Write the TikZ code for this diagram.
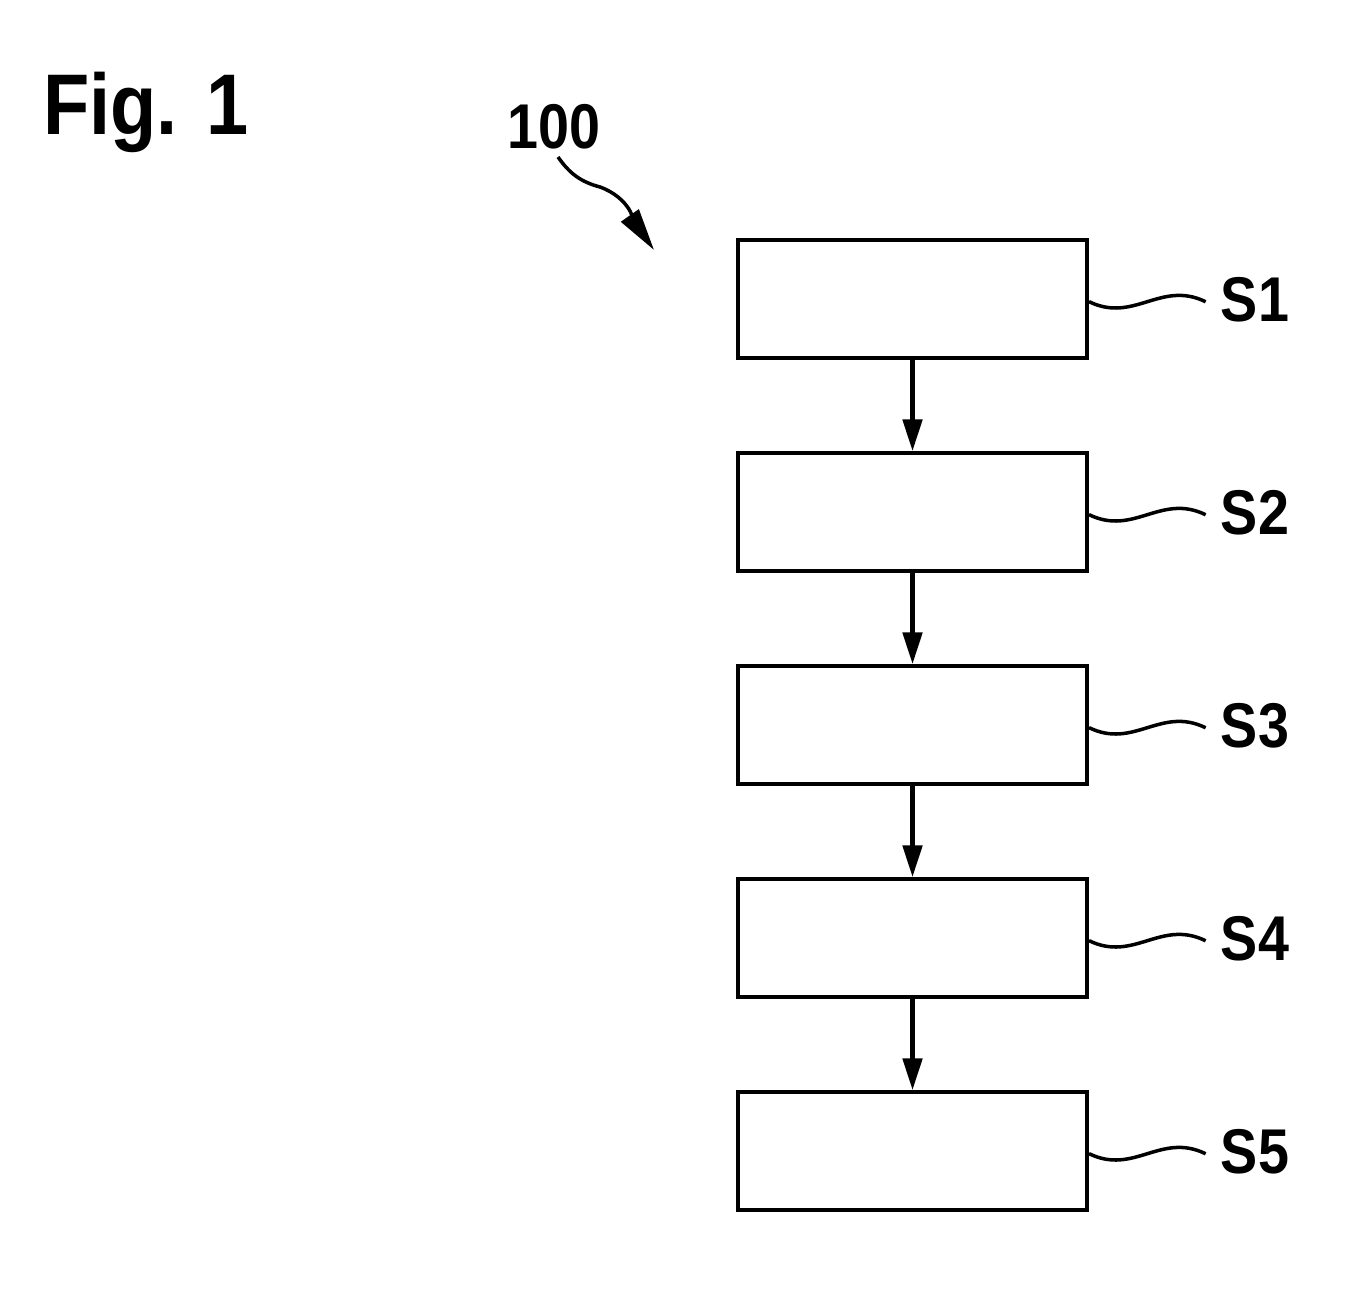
\documentclass[tikz,border=0pt]{standalone}
\usepackage{fontspec}
\setmainfont{Liberation Sans}[FakeStretch=0.88]
\usetikzlibrary{arrows.meta}

\tikzstyle{stepbox} = [draw, line width=2.3pt, minimum width=6.98cm, minimum height=2.36cm, inner sep=0pt]
\tikzstyle{flow} = [draw, line width=2.3pt, -{Triangle[width=11pt,length=18pt]}]
\tikzstyle{leader} = [draw, line width=2pt]
\tikzstyle{reflabel} = [font=\bfseries\fontsize{36}{36}\selectfont, inner sep=0pt]

\begin{document}
\begin{tikzpicture}[x=0.02cm, y=-0.02cm]
    \useasboundingbox (0,0) rectangle (1354,1311);

    % figure title
    \node[font=\bfseries\fontsize{49}{49}\selectfont, inner sep=0pt, anchor=base west] (title) at (43,135) {Fig. 1};

    % the method and its pointer
    \node[reflabel] (meth) at (554,127) {100};
    \coordinate (methtip) at (654,250);
    \draw[line width=2pt, -{Triangle[width=12pt,length=24pt]}] (558,157) to[out=-55,in=165] (600,187) to[out=-20,in=125] (methtip);

    % the steps
    \foreach \pos/\name in {{(912.5,299)/s1}, {(912.5,512)/s2}, {(912.5,725)/s3}, {(912.5,938)/s4}, {(912.5,1151)/s5}} {
      \node[stepbox] (\name) at \pos {};
    }

    % the step labels
    \foreach \pos/\name/\txt in {{(1255,300)/l1/S1}, {(1255,513)/l2/S2}, {(1255,726)/l3/S3}, {(1255,939)/l4/S4}, {(1255,1152)/l5/S5}} {
      \node[reflabel] (\name) at \pos {\txt};
    }

    % wavy leaders
    \foreach \stp/\lab in {s1/l1, s2/l2, s3/l3, s4/l4, s5/l5} {
      \path[leader] ([yshift=-1.5pt]\stp.east) .. controls +(45,22) and +(-45,-22) .. ([xshift=-0.3cm,yshift=-1pt]\lab.west);
    }

    % the flow between steps
    \foreach \source/\sink in {s1/s2, s2/s3, s3/s4, s4/s5} {
      \path[flow] (\source) -- (\sink.north);
    }
\end{tikzpicture}
\end{document}
